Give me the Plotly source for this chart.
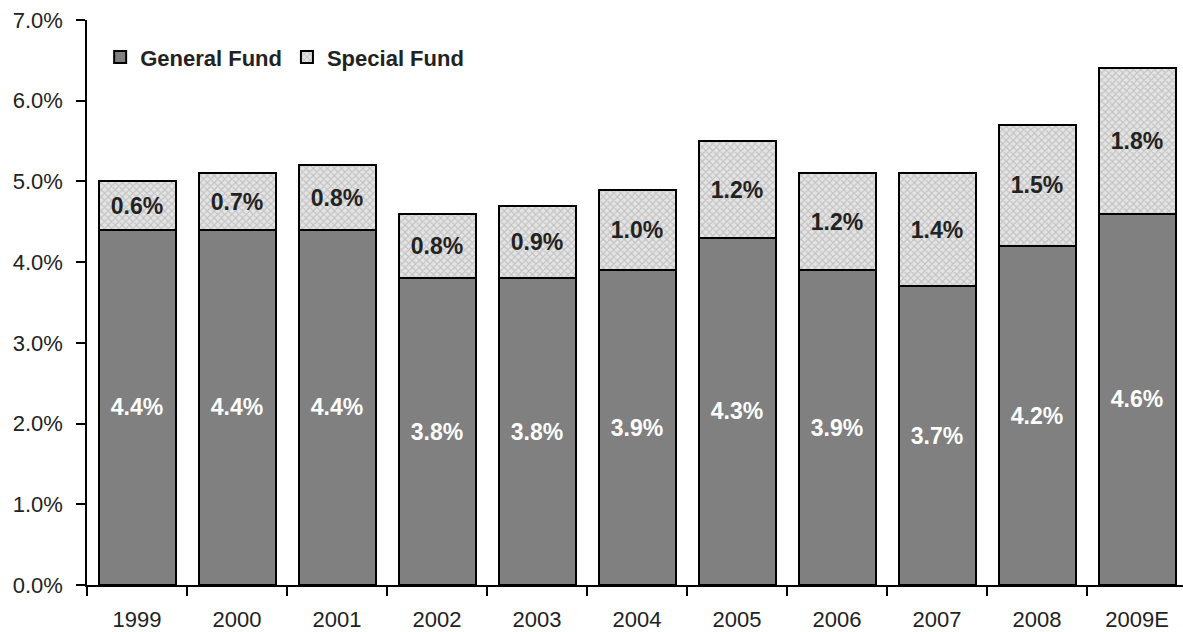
import plotly.graph_objects as go

years = ["1999", "2000", "2001", "2002", "2003", "2004", "2005", "2006", "2007", "2008", "2009E"]
general_fund = [4.4, 4.4, 4.4, 3.8, 3.8, 3.9, 4.3, 3.9, 3.7, 4.2, 4.6]
special_fund = [0.6, 0.7, 0.8, 0.8, 0.9, 1.0, 1.2, 1.2, 1.4, 1.5, 1.8]
y_ticks = [0, 1, 2, 3, 4, 5, 6, 7]
y_tick_labels = ["0.0%", "1.0%", "2.0%", "3.0%", "4.0%", "5.0%", "6.0%", "7.0%"]

font_family = "Liberation Sans, Arial, sans-serif"

fig = go.Figure()
fig.add_trace(go.Bar(
    name="General Fund",
    x=years,
    y=general_fund,
    text=[f"{v:.1f}%" for v in general_fund],
    textposition="inside",
    insidetextanchor="middle",
    textangle=0,
    textfont=dict(color="white", size=23, family=font_family, weight="bold"),
    marker=dict(color="#808080", line=dict(color="black", width=2)),
    width=0.77,
))
fig.add_trace(go.Bar(
    name="Special Fund",
    x=years,
    y=special_fund,
    text=[f"{v:.1f}%" for v in special_fund],
    textposition="inside",
    insidetextanchor="middle",
    textangle=0,
    textfont=dict(color="#222222", size=23, family=font_family, weight="bold"),
    marker=dict(
        color="#d8d8d8",
        line=dict(color="black", width=2),
        pattern=dict(shape="x", fgcolor="#a0a0a0", bgcolor="#e4e4e4", size=5, solidity=0.4),
    ),
    width=0.77,
))

fig.update_layout(
    barmode="stack",
    width=1183,
    height=632,
    margin=dict(l=87, r=0, t=20, b=47),
    paper_bgcolor="white",
    plot_bgcolor="white",
    font=dict(family=font_family, size=22, color="#222222"),
    uniformtext=dict(mode=False),
    legend=dict(
        orientation="h",
        x=0.012, y=0.934, xanchor="left", yanchor="middle",
        font=dict(size=22, family=font_family, weight="bold", color="#222222"),
        bgcolor="rgba(0,0,0,0)",
        itemwidth=30,
        traceorder="normal",
    ),
    xaxis=dict(
        type="category",
        range=[-0.5, 10.46],
        showline=True, linecolor="black", linewidth=1.5,
        ticks="outside", tickson="boundaries", ticklen=9, tickcolor="black", tickwidth=1.5,
        tickfont=dict(size=22, color="#222222"),
        ticklabelstandoff=14,
        showgrid=False,
    ),
    yaxis=dict(
        range=[0, 7],
        tickvals=y_ticks,
        ticktext=y_tick_labels,
        showline=True, linecolor="black", linewidth=1.5,
        ticks="outside", ticklen=9, tickcolor="black", tickwidth=1.5,
        tickfont=dict(size=22, color="#222222"),
        ticklabelstandoff=9,
        showgrid=False, zeroline=False,
    ),
)

fig.write_html("out.html")
